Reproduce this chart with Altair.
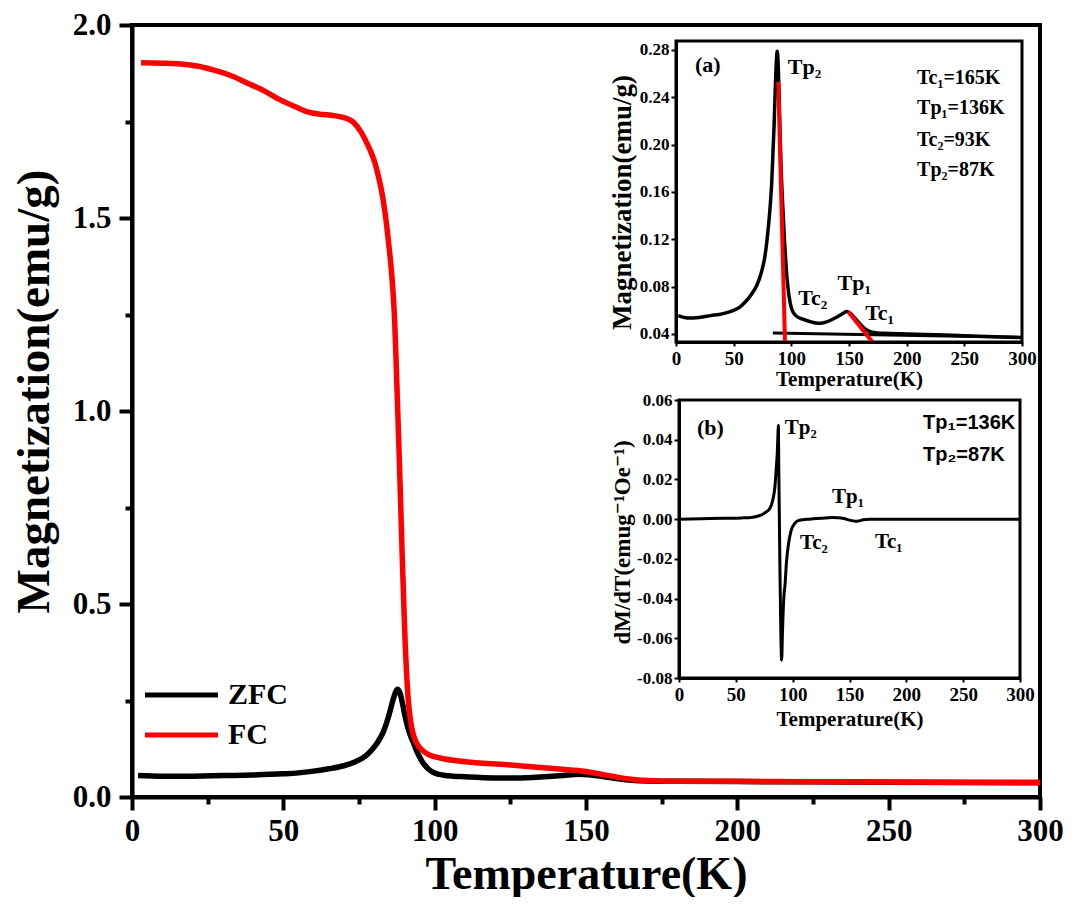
import altair as alt
import pandas as pd

# ---------------- data ----------------
FC_T = [3, 10, 16, 22, 27, 33, 38, 44, 49, 54, 58, 62, 66, 70, 73, 75.5, 77.6, 79, 80.3, 81.5,
        82.6, 83.5, 84.2, 85, 85.6, 86.2, 86.8, 87.3, 87.8, 88.3, 88.8, 89.3, 89.8, 90.3, 90.8,
        91.3, 92, 92.8, 94, 95.8, 98, 101.8, 108, 115, 125, 137, 145, 150, 155, 160, 165, 170,
        180, 200, 250, 300]
FC_M = [1.902, 1.901, 1.899, 1.893, 1.883, 1.868, 1.850, 1.828, 1.806, 1.788, 1.775, 1.769,
        1.766, 1.760, 1.749, 1.725, 1.694, 1.670, 1.642, 1.605, 1.565, 1.520, 1.477, 1.420,
        1.373, 1.313, 1.230, 1.120, 1.000, 0.880, 0.750, 0.620, 0.500, 0.390, 0.310, 0.250,
        0.200, 0.166, 0.140, 0.122, 0.110, 0.101, 0.093, 0.088, 0.083, 0.075, 0.070, 0.066,
        0.059, 0.052, 0.046, 0.043, 0.041, 0.0405, 0.039, 0.038]

ZFC_T = [2, 10, 20, 30, 40, 50, 55, 60, 65, 70, 74, 77, 79, 81, 83, 85, 86, 87, 87.7, 88.5,
         89.3, 90.2, 91.2, 92.2, 93, 94, 95, 96, 97, 98, 100, 103, 106, 110, 120, 125, 130,
         135, 140, 145, 148, 151, 155, 160, 165, 170, 180, 200, 250, 300]
ZFC_M = [0.0555, 0.0535, 0.0540, 0.0555, 0.0570, 0.0600, 0.0625, 0.0670, 0.0730, 0.0810,
         0.0920, 0.1050, 0.1200, 0.1400, 0.1680, 0.2150, 0.2450, 0.2700, 0.2790, 0.2700,
         0.2450, 0.2100, 0.1780, 0.1550, 0.1400, 0.1200, 0.1040, 0.0900, 0.0800, 0.0720,
         0.0620, 0.0565, 0.0540, 0.0525, 0.0495, 0.0490, 0.0500, 0.0520, 0.0545, 0.0575,
         0.0590, 0.0575, 0.0535, 0.0480, 0.0435, 0.0415, 0.0405, 0.0400, 0.0385, 0.0370]

DMDT_T = [0, 20, 40, 55, 65, 72, 77, 80, 82, 83.5, 84.5, 85.5, 86.5, 87.0, 87.4, 87.8, 88.3,
          88.9, 89.6, 90.3, 90.9, 91.6, 92.4, 93.3, 94.5, 96.2, 98.5, 102, 106, 115, 125, 135,
          140, 145, 150, 155, 158, 162, 168, 200, 250, 300]
DMDT_V = [0.0, 0.0002, 0.0004, 0.0006, 0.0010, 0.0020, 0.0038, 0.0055, 0.0085, 0.0125, 0.0170,
          0.0250, 0.0340, 0.0420, 0.0473, 0.0250, 0.0000, -0.0300, -0.0580, -0.0710, -0.0600,
          -0.0470, -0.0380, -0.0330, -0.0220, -0.0130, -0.0060, -0.0020, -0.0006, 0.0, 0.0004,
          0.0008, 0.0007, 0.0003, -0.0005, -0.0010, -0.0009, -0.0003, 0.0, 0.0, 0.0, 0.0]

BASE_T = [84, 300]
BASE_M = [0.0408, 0.0372]
TAN1_T = [88.7, 94.5]
TAN1_M = [0.2532, 0.0332]
TAN2_T = [149.4, 170.3]
TAN2_M = [0.0588, 0.0332]

SERIES = ["ZFC", "FC"]
COLORS = ["#000000", "#ff0000"]

X_DOMAIN = [0, 300]
Y_DOMAIN = [0, 2]
A_Y_DOMAIN = [0.0332, 0.2876]
B_Y_DOMAIN = [-0.08, 0.06]

X_TICKS = [0, 50, 100, 150, 200, 250, 300]
X_MINOR = [25, 75, 125, 175, 225, 275]
Y_TICKS = [0.0, 0.5, 1.0, 1.5, 2.0]
Y_MINOR = [0.25, 0.75, 1.25, 1.75]
A_Y_TICKS = [0.04, 0.08, 0.12, 0.16, 0.20, 0.24, 0.28]
B_Y_TICKS = [-0.08, -0.06, -0.04, -0.02, 0.0, 0.02, 0.04, 0.06]

A_PANEL = ["(a)"]
A_PANEL_T = [16.5]
A_PANEL_M = [0.2673]
A_LABELS = ["Tp\u2082", "Tc\u2082", "Tp\u2081", "Tc\u2081"]
A_LABELS_T = [97, 106, 140, 164]
A_LABELS_M = [0.2657, 0.0704, 0.0831, 0.0577]
A_NOTES = ["Tc\u2081=165K", "Tp\u2081=136K", "Tc\u2082=93K", "Tp\u2082=87K"]
A_NOTES_T = [209, 209, 209, 209]
A_NOTES_M = [0.2564, 0.2310, 0.2040, 0.1786]

B_PANEL = ["(b)"]
B_PANEL_T = [15.8]
B_PANEL_V = [0.0458]
B_LABELS = ["Tp\u2082", "Tp\u2081", "Tc\u2082", "Tc\u2081"]
B_LABELS_T = [93, 134.6, 106.5, 172.4]
B_LABELS_V = [0.0458, 0.0111, -0.0121, -0.0116]
B_NOTES = ["Tp\u2081=136K", "Tp\u2082=87K"]
B_NOTES_T = [214.7, 214.7]
B_NOTES_V = [0.0483, 0.0322]

# ---------------- layout / style ----------------
W, H = 908, 772
A_X_RANGE = [544, 890]
A_Y_RANGE = [317, 16]
B_X_RANGE = [547, 888]
B_Y_RANGE = [653, 375]
SERIF = "Liberation Serif, DejaVu Serif"
SANS = "Liberation Sans, DejaVu Sans"

main_df = pd.concat([
    pd.DataFrame({"T": ZFC_T, "M": ZFC_M, "s": "ZFC"}),
    pd.DataFrame({"T": FC_T, "M": FC_M, "s": "FC"}),
], ignore_index=True)
zfc_df = pd.DataFrame({"T": ZFC_T, "M": ZFC_M})
base_df = pd.DataFrame({"T": BASE_T, "M": BASE_M})
tan_df = pd.concat([
    pd.DataFrame({"T": TAN1_T, "M": TAN1_M, "g": 1}),
    pd.DataFrame({"T": TAN2_T, "M": TAN2_M, "g": 2}),
], ignore_index=True)
dmdt_df = pd.DataFrame({"T": DMDT_T, "M": DMDT_V})
frame_a_df = pd.DataFrame({"T": [X_DOMAIN[0]], "T2": [X_DOMAIN[1]],
                           "M": [A_Y_DOMAIN[0]], "M2": [A_Y_DOMAIN[1]]})
frame_b_df = pd.DataFrame({"T": [X_DOMAIN[0]], "T2": [X_DOMAIN[1]],
                           "M": [B_Y_DOMAIN[0]], "M2": [B_Y_DOMAIN[1]]})

# ---------------- main panel ----------------
mx = alt.Scale(domain=X_DOMAIN, nice=False, zero=False)
my = alt.Scale(domain=Y_DOMAIN, nice=False, zero=False)

main = alt.Chart(main_df).mark_line(strokeWidth=5.5, interpolate="monotone").encode(
    x=alt.X("T:Q", scale=mx, axis=alt.Axis(
        orient="bottom", values=X_TICKS, format="d", title="Temperature(K)",
        titleFontSize=46, labelFontSize=31, tickSize=13, tickWidth=4, domainWidth=4,
        labelPadding=6, titlePadding=6)),
    y=alt.Y("M:Q", scale=my, axis=alt.Axis(
        orient="left", values=Y_TICKS, format=".1f", title="Magnetization(emu/g)",
        titleFontSize=47, labelFontSize=31, tickSize=13, tickWidth=4, domainWidth=4,
        labelPadding=8, titlePadding=14, titleY=366)),
    color=alt.Color("s:N", scale=alt.Scale(domain=SERIES, range=COLORS), legend=alt.Legend(
        title=None, orient="none", legendX=34.5, legendY=655, symbolType="M-7.3,0H7.3",
        symbolSize=100, symbolStrokeWidth=5, rowPadding=10, labelFont=SERIF,
        labelFontSize=30, labelFontWeight="bold", labelColor="black", labelOffset=31.5,
        padding=0)),
)

minor = alt.Chart(zfc_df).mark_line(strokeOpacity=0).encode(
    x=alt.X("T:Q", scale=mx, axis=alt.Axis(
        orient="bottom", values=X_MINOR, labels=False, domain=False, title=None,
        tickSize=7, tickWidth=4)),
    y=alt.Y("M:Q", scale=my, axis=alt.Axis(
        orient="left", values=Y_MINOR, labels=False, domain=False, title=None,
        tickSize=7, tickWidth=4)),
)


def xy(xscale, yscale, xaxis, yaxis):
    return dict(x=alt.X("T:Q", scale=xscale, axis=xaxis),
                y=alt.Y("M:Q", scale=yscale, axis=yaxis))


def texts(labels, xs, ys, enc, font, size):
    df = pd.DataFrame({"t": labels, "T": xs, "M": ys})
    return alt.Chart(df).mark_text(align="left", baseline="middle", font=font,
                                   fontSize=size, fontWeight="bold", color="black").encode(
        text="t:N", **enc)


# ---------------- inset (a) ----------------
ax = alt.Scale(domain=X_DOMAIN, range=A_X_RANGE, nice=False, zero=False)
ay = alt.Scale(domain=A_Y_DOMAIN, range=A_Y_RANGE, nice=False, zero=False)
ax_axis = alt.Axis(orient="bottom", offset=-(H - A_Y_RANGE[0]), values=X_TICKS, format="d",
                   title="Temperature(K)", titleFontSize=21, labelFontSize=19, tickSize=4,
                   tickWidth=2, domainWidth=3, labelPadding=3, titlePadding=0, zindex=2)
ay_axis = alt.Axis(orient="left", offset=-A_X_RANGE[0], values=A_Y_TICKS, format=".2f",
                   title="Magnetization(emu/g)", titleFontSize=27, labelFontSize=17, tickSize=5,
                   tickWidth=2, domainWidth=3, labelPadding=2, titlePadding=3, zindex=2,
                   titleY=177)
enc_a = xy(ax, ay, ax_axis, ay_axis)

frame_a = alt.Chart(frame_a_df).mark_rect(fill="white", stroke="black", strokeWidth=3).encode(
    x2="T2:Q", y2="M2:Q", **enc_a)
zfc_a = alt.Chart(zfc_df).mark_line(color="black", strokeWidth=3.5,
                                    interpolate="monotone").encode(**enc_a)
base_a = alt.Chart(base_df).mark_line(color="black", strokeWidth=3).encode(**enc_a)
tan_a = alt.Chart(tan_df).mark_line(color="#ff0000", strokeWidth=4).encode(
    detail="g:N", **enc_a)

inset_a = alt.layer(
    frame_a, zfc_a, base_a, tan_a,
    texts(A_PANEL, A_PANEL_T, A_PANEL_M, enc_a, SERIF, 22),
    texts(A_LABELS, A_LABELS_T, A_LABELS_M, enc_a, SERIF, 22),
    texts(A_NOTES, A_NOTES_T, A_NOTES_M, enc_a, SERIF, 20),
)

# ---------------- inset (b) ----------------
bx = alt.Scale(domain=X_DOMAIN, range=B_X_RANGE, nice=False, zero=False)
by = alt.Scale(domain=B_Y_DOMAIN, range=B_Y_RANGE, nice=False, zero=False)
bx_axis = alt.Axis(orient="bottom", offset=-(H - B_Y_RANGE[0]), values=X_TICKS, format="d",
                   title="Temperature(K)", titleFontSize=21, labelFontSize=19, tickSize=4,
                   tickWidth=2, domainWidth=3, labelPadding=3, titlePadding=4, zindex=2)
by_axis = alt.Axis(orient="left", offset=-B_X_RANGE[0], values=B_Y_TICKS,
                   labelExpr="replace(format(datum.value, '.2f'), '\u2212', '-')",
                   title="dM/dT(emug\u207b\u00b9Oe\u207b\u00b9)", titleFontSize=23,
                   labelFontSize=17, tickSize=5, tickWidth=2, domainWidth=3, labelPadding=2,
                   titlePadding=2, zindex=2, titleY=517)
enc_b = xy(bx, by, bx_axis, by_axis)

frame_b = alt.Chart(frame_b_df).mark_rect(fill="white", stroke="black", strokeWidth=3).encode(
    x2="T2:Q", y2="M2:Q", **enc_b)
dmdt_b = alt.Chart(dmdt_df).mark_line(color="black", strokeWidth=3,
                                      interpolate="monotone").encode(**enc_b)

inset_b = alt.layer(
    frame_b, dmdt_b,
    texts(B_PANEL, B_PANEL_T, B_PANEL_V, enc_b, SERIF, 22),
    texts(B_LABELS, B_LABELS_T, B_LABELS_V, enc_b, SERIF, 21),
    texts(B_NOTES, B_NOTES_T, B_NOTES_V, enc_b, SANS, 20),
)

chart = alt.layer(main, minor, inset_a, inset_b).resolve_scale(
    x="independent", y="independent"
).properties(
    width=W, height=H,
    autosize=alt.AutoSizeParams(type="none"),
    padding={"left": 124, "top": 17, "right": 31, "bottom": 100},
).configure(
    font=SERIF, background="white"
).configure_view(
    stroke="black", strokeWidth=4
).configure_axis(
    grid=False, labelFont=SERIF, titleFont=SERIF, labelFontWeight="bold",
    titleFontWeight="bold", labelColor="black", titleColor="black", tickColor="black",
    domainColor="black", labelFlush=False, labelOverlap=False
)

chart.save("out.html", embed_options={"renderer": "svg", "actions": False})
